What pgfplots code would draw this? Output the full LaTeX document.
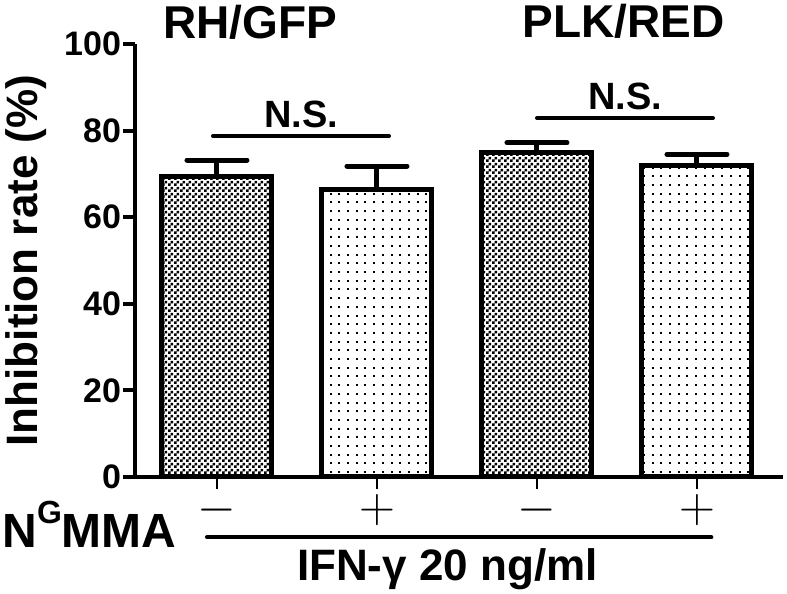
\documentclass[border=0pt]{standalone}
\usepackage{fontspec}
\setmainfont{Liberation Sans}
\usepackage{pgfplots}
\pgfplotsset{compat=1.18}
\usetikzlibrary{patterns}

% fills of the bars
\pgfdeclarepatternformonly{checks}{\pgfpointorigin}{\pgfqpoint{3pt}{3pt}}{\pgfqpoint{3pt}{3pt}}{%
  \pgfpathrectangle{\pgfpointorigin}{\pgfqpoint{1.5pt}{1.5pt}}%
  \pgfpathrectangle{\pgfqpoint{1.5pt}{1.5pt}}{\pgfqpoint{1.5pt}{1.5pt}}%
  \pgfusepath{fill}}
\pgfdeclarepatternformonly{sparsedots}{\pgfqpoint{-1pt}{-1pt}}{\pgfqpoint{1pt}{1pt}}{\pgfqpoint{4.35pt}{4.35pt}}{%
  \pgfpathrectangle{\pgfqpoint{-0.5pt}{-0.5pt}}{\pgfqpoint{1pt}{1pt}}%
  \pgfusepath{fill}}

\begin{document}
\begin{tikzpicture}
\useasboundingbox (-67.5pt,-58.5pt) rectangle (326pt,238.5pt);
\begin{axis}[
  at={(0pt,0pt)}, anchor=south west,
  scale only axis, width=324pt, height=216.5pt,
  xmin=-0.5125, xmax=3.5375, ymin=0, ymax=100,
  axis lines=left, axis line style={-, line width=2pt},
  clip=false,
  ybar, bar width=55pt,
  xtick={0,1,2,3}, xticklabels={$-$,$+$,$-$,$+$},
  xticklabel style={anchor=center, yshift=-10.5pt, font=\fontsize{26}{26}\selectfont},
  ytick={0,20,...,100},
  yticklabel style={font=\fontsize{17}{17}\selectfont\bfseries, xshift=2.5pt},
  /pgf/number format/assume math mode=true,
  tick align=outside, major tick length=6pt,
  x tick style={line width=1.3pt, black},
  y tick style={line width=2pt, black},
  ylabel={Inhibition rate (\%)},
  ylabel style={font=\fontsize{22}{22}\selectfont\bfseries,
    at={(axis description cs:-0.168,0.5)}, anchor=center},
]
\addplot[draw=black, line width=2.5pt, pattern=checks, bar shift=0pt,
  error bars/.cd, y dir=plus, y explicit,
  error bar style={black, line width=2.5pt},
  error mark options={black, line width=2.5pt, mark size=15pt, line cap=round, rotate=90}]
  coordinates {(0,69.5) +- (0,3.7) (2,74.9) +- (0,2.3)};
\addplot[draw=black, line width=2.5pt, pattern=sparsedots, bar shift=0pt,
  error bars/.cd, y dir=plus, y explicit,
  error bar style={black, line width=2.5pt},
  error mark options={black, line width=2.5pt, mark size=15pt, line cap=round, rotate=90}]
  coordinates {(1,66.4) +- (0,5.4) (3,72.0) +- (0,2.5)};

% significance brackets
\draw[line width=2pt, line cap=round] (axis cs:-0.025,78.75) -- (axis cs:1.075,78.75);
\node[anchor=base, font=\fontsize{19}{19}\selectfont\bfseries] at (axis cs:0.525,80.6) {N.S.};
\draw[line width=2pt, line cap=round] (axis cs:2.0,82.9) -- (axis cs:3.1,82.9);
\node[anchor=base, font=\fontsize{19}{19}\selectfont\bfseries] at (axis cs:2.55,84.8) {N.S.};

% group titles
\node[anchor=base, font=\fontsize{23}{23}\selectfont\bfseries] at (axis cs:0.206,101.2) {RH/GFP};
\node[anchor=base, font=\fontsize{23}{23}\selectfont\bfseries] at (axis cs:2.54,101.6) {PLK/RED};

% treatment rows under the axis
\node[anchor=base west, inner sep=0pt, font=\fontsize{24}{24}\selectfont\bfseries]
  at (axis cs:-1.344,-16.2) {N\raisebox{12pt}{\fontsize{16}{16}\selectfont G}MMA};
\draw[line width=2pt, line cap=round] (axis cs:-0.0625,-13.9) -- (axis cs:3.09,-13.9);
\node[anchor=base, font=\fontsize{22}{22}\selectfont\bfseries] at (axis cs:1.44,-23.8) {IFN-γ 20 ng/ml};
\end{axis}
\end{tikzpicture}
\end{document}
